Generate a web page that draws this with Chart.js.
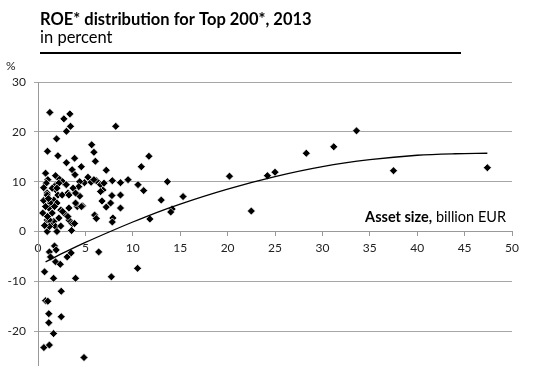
<!DOCTYPE html>
<html>
<head>
<meta charset="utf-8">
<script src="https://cdn.jsdelivr.net/npm/chart.js@4.4.0/dist/chart.umd.min.js"></script>
<style>
  html, body { margin: 0; padding: 0; background: #fff; overflow: hidden; }
  #chart { display: block; }
</style>
</head>
<body>
<canvas id="chart" width="540" height="366"></canvas>
<script>
const title = 'ROE* distribution for Top 200*, 2013'
const subtitle = 'in percent'
const yUnit = '%'

// one entry per bank: asset size (billion EUR) and ROE (%)
const assetSize = [
  1.25, 2.73, 3.36, 3.43, 3.0, 8.2, 1.96, 1.0, 2.1, 5.66, 5.9, 6.05, 3.0, 3.86, 4.57, 3.6, 7.2, 0.8, 3.9, 10.9, 11.7,
  1.85, 2.27, 2.6, 5.27, 4.9, 5.6, 4.4, 4.3, 2.98, 3.7, 1.9, 1.85, 1.04, 0.87, 6.15, 6.6, 6.85, 7.84, 8.7, 9.5, 5.9, 6.96,
  0.97, 2.1, 3.15, 4.4, 1.5, 2.2, 2.0, 2.55, 3.26, 3.96, 0.97, 1.67, 1.32, 2.0, 1.14, 2.4, 3.26, 4.14, 4.7, 3.96, 1.74,
  6.6, 7.8, 8.7, 6.75, 7.2, 8.7, 7.66, 13.0, 15.3, 11.15, 10.55, 13.65, 0.6, 0.8, 0.6, 1.1,
  1.5, 2.73, 0.97, 1.67, 2.2, 3.26, 3.6, 1.32, 1.85, 0.97, 2.0, 3.54, 0.5, 1.2, 2.4, 1.2, 2.6, 3.15, 3.86, 5.97, 6.15,
  7.9, 7.84, 11.8, 14.15, 14.0, 4.57, 1.0, 0.7,
  1.2, 1.74, 1.92, 1.32, 1.85, 2.35, 3.08, 3.5, 0.69, 1.64, 3.96, 6.4, 7.74, 10.5, 2.45, 0.8, 1.04, 1.14, 2.45, 1.14,
  1.64, 0.62, 1.2, 4.85,
  20.2, 22.5, 24.2, 25.0, 28.3, 31.2, 33.6, 37.5, 47.4
]
const roe = [
  23.9, 22.6, 23.6, 21.1, 20.1, 21.1, 18.6, 16.1, 15.2, 17.4, 15.9, 14.1, 13.8, 14.7, 13.0, 12.4, 12.3, 11.7, 11.4, 13.0, 15.1,
  11.2, 10.5, 10.0, 10.9, 9.8, 9.9, 10.0, 9.0, 9.4, 8.7, 9.4, 8.4, 10.4, 9.7, 10.2, 9.4, 8.3, 10.2, 9.8, 10.4, 10.4, 9.7,
  7.7, 7.3, 7.7, 7.1, 8.7, 9.7, 8.7, 7.3, 7.3, 7.7, 7.3, 6.3, 5.7, 5.7, 4.7, 4.3, 4.7, 5.0, 5.1, 5.7, 5.0,
  8.0, 7.2, 7.3, 6.1, 4.9, 4.7, 5.7, 6.3, 7.0, 8.2, 9.4, 10.0, 6.2, 5.0, 8.8, 6.6,
  3.7, 3.7, 2.3, 2.0, 2.7, 2.3, 1.6, 1.3, 1.0, 0.0, 0.0, 0.2, 3.7, 2.3, 1.1, 1.0, 4.0, 3.0, 1.6, 3.3, 2.6,
  2.7, 1.9, 2.5, 4.5, 3.9, 5.0, 3.0, 1.2,
  -4.1, -2.9, -3.7, -5.1, -6.1, -6.6, -5.1, -4.3, -8.1, -9.4, -9.4, -4.1, -9.1, -7.4, -12.0, -13.9, -14.0, -16.5, -17.1, -18.3,
  -20.5, -23.3, -22.8, -25.3,
  11.1, 4.1, 11.2, 11.9, 15.7, 17.0, 20.2, 12.2, 12.8
]

// polynomial trend line as drawn in the picture
const trendX = [0.8, 3, 5, 7.5, 10, 12.5, 15, 20, 25, 30, 35, 40, 44, 47.4]
const trendY = [-6.1, -4.0, -2.2, -0.1, 1.9, 3.8, 5.5, 8.5, 11.0, 13.0, 14.4, 15.3, 15.6, 15.7]

const xTicks = [0, 5, 10, 15, 20, 25, 30, 35, 40, 45, 50]
const yTicks = [30, 20, 10, 0, -10, -20]

const FONT = 'Lato'

const textPlugin = {
  id: 'texts',
  afterDraw(chart) {
    const ctx = chart.ctx
    const area = chart.chartArea
    const y = chart.scales.y
    ctx.save()
    ctx.fillStyle = '#000'
    ctx.textBaseline = 'alphabetic'
    ctx.textAlign = 'left'
    ctx.font = 'bold 16.5px ' + FONT
    ctx.fillText(title, 40, 24.5)
    ctx.font = '16.5px ' + FONT
    ctx.fillText(subtitle, 40, 42.5)
    ctx.fillRect(40, 52, 421, 2)

    ctx.fillStyle = '#222'
    ctx.font = '12px ' + FONT
    ctx.fillText(yUnit, 6, 70)

    // axis title inside the plot, right aligned
    ctx.fillStyle = '#000'
    const bold = 'Asset size,'
    const rest = ' billion EUR'
    ctx.font = '14.5px ' + FONT
    const wRest = ctx.measureText(rest).width
    ctx.font = 'bold 14.5px ' + FONT
    const wBold = ctx.measureText(bold).width
    const xEnd = area.right - 6
    const yBase = y.getPixelForValue(2)
    ctx.fillText(bold, xEnd - wRest - wBold, yBase)
    ctx.font = '14.5px ' + FONT
    ctx.fillText(rest, xEnd - wRest, yBase)
    ctx.restore()
  }
}

function noPadding(scale) {
  scale.paddingTop = 0
  scale.paddingBottom = 0
  scale.paddingLeft = 0
  scale.paddingRight = 0
}

new Chart(document.querySelector('#chart').getContext('2d'), {
  type: 'scatter',
  data: {
    datasets: [
      {
        label: 'Trend',
        data: trendX.map((x, i) => ({ x, y: trendY[i] })),
        showLine: true,
        borderColor: '#000',
        borderWidth: 1.3,
        pointRadius: 0,
        cubicInterpolationMode: 'monotone',
        fill: false
      },
      {
        label: 'ROE',
        data: assetSize.map((x, i) => ({ x, y: roe[i] })),
        pointStyle: 'rectRot',
        pointRadius: 4,
        backgroundColor: '#000',
        borderColor: '#fff',
        borderWidth: 0.7
      }
    ]
  },
  options: {
    responsive: false,
    animation: false,
    devicePixelRatio: 1,
    layout: { autoPadding: false, padding: { top: 82, left: 0, right: 28, bottom: 0 } },
    plugins: {
      legend: { display: false },
      tooltip: { enabled: false }
    },
    scales: {
      x: {
        type: 'linear',
        position: { y: 0 },
        min: 0,
        max: 50,
        afterFit(scale) { scale.height = 0; noPadding(scale) },
        afterBuildTicks(scale) { scale.ticks = xTicks.map(v => ({ value: v })) },
        grid: { drawOnChartArea: false, drawTicks: true, tickLength: 4, color: '#999' },
        border: { display: true, color: '#999', width: 1 },
        ticks: { padding: 5, color: '#222', font: { family: FONT, size: 12 }, maxRotation: 0 }
      },
      y: {
        type: 'linear',
        min: -27,
        max: 30,
        afterFit(scale) { scale.width = 38; noPadding(scale) },
        afterBuildTicks(scale) { scale.ticks = yTicks.map(v => ({ value: v })) },
        grid: { color: '#a6a6a6', lineWidth: 1, tickLength: 4 },
        border: { display: true, color: '#999', width: 1 },
        ticks: { padding: 8, color: '#222', font: { family: FONT, size: 12 } }
      }
    }
  },
  plugins: [textPlugin]
})
</script>
</body>
</html>
